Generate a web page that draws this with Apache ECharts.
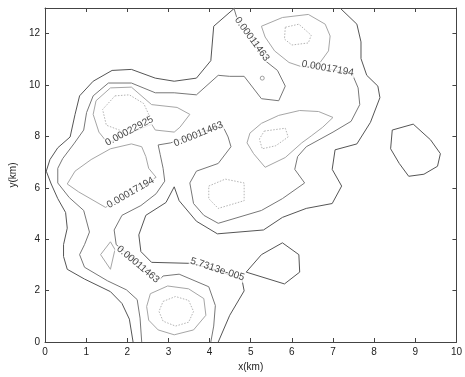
<!DOCTYPE html>
<html>
<head>
<meta charset="utf-8">
<style>
  html, body { margin: 0; padding: 0; background: #fff; }
  #chart { width: 465px; height: 377px; }
</style>
<script src="https://cdn.jsdelivr.net/npm/echarts@6/dist/echarts.min.js"></script>
</head>
<body>
<div id="chart"></div>
<script>
// Tick labels
const xTickLabels = ['0', '1', '2', '3', '4', '5', '6', '7', '8', '9', '10'];
const yTickLabels = ['0', '2', '4', '6', '8', '10', '12'];

// Contour level 5.7313e-005 (outermost), vertices in km
const level1Paths = [
  [[4.61,13.0],[4.10,12.29],[4.03,10.95],[3.68,10.27],[3.14,10.15],[2.68,10.27],[2.10,10.61],[1.63,10.57],[1.17,10.15],[0.84,9.58],[0.73,8.86],[0.61,7.98],[0.31,7.56],[0.12,7.10],[0.03,6.65],[0.15,6.15],[0.31,5.58],[0.50,5.04],[0.54,4.43],[0.45,3.79],[0.45,3.33],[0.54,2.83],[0.96,2.45],[1.59,1.96],[1.87,1.50],[2.05,0.89],[2.14,0]],
  [[4.21,0],[4.49,1.04],[4.84,1.99],[4.79,2.41],[4.19,2.79],[3.56,3.06],[2.59,3.10],[2.33,3.52],[2.28,4.17],[2.45,4.93],[2.94,5.43],[3.14,6.04],[3.26,5.50],[3.68,4.70],[4.19,4.21],[5.31,4.36],[5.77,4.85],[6.35,5.20],[6.98,5.39],[7.21,6.07],[6.98,6.72],[7.05,7.48],[7.58,7.71],[7.91,8.55],[8.14,9.51],[8.09,9.96],[7.82,10.38],[7.68,11.03],[7.68,11.68],[7.58,12.37],[7.17,13.0]],
  [[8.44,8.25],[8.95,8.48],[9.37,7.87],[9.61,7.33],[9.54,6.84],[9.21,6.53],[8.84,6.45],[8.61,6.95],[8.40,7.52],[8.44,8.25]],
  [[4.89,2.72],[5.26,3.40],[5.77,3.86],[6.17,3.40],[6.19,2.72],[5.82,2.26],[4.89,2.72]]
];

// Contour level 0.00011463
const level2Paths = [
  [[4.59,13.0],[4.66,12.63],[5.03,11.87],[5.35,10.95],[5.65,10.57],[5.84,9.96],[5.68,9.39],[5.26,9.47],[4.84,10.34],[4.49,10.34],[4.21,10.38],[3.68,9.62],[3.14,9.70],[2.68,9.70],[2.10,10.08],[1.54,10.08],[1.17,9.58],[1.01,8.93],[0.94,8.25],[0.70,7.71],[0.43,7.14],[0.31,6.76],[0.31,6.19],[0.59,5.62],[0.94,5.12],[1.08,4.28],[0.96,3.79],[0.84,3.40],[0.96,2.91],[1.52,2.38],[1.98,2.03],[2.24,1.65],[2.31,0.93],[2.35,0]],
  [[4.03,0],[4.10,0.62],[4.14,1.42],[3.98,2.15],[3.26,2.64],[2.87,2.57],[2.80,2.45],[1.73,3.79],[1.68,4.36],[1.87,4.93],[2.33,5.31],[2.70,5.77],[2.91,6.26],[2.87,6.76],[2.80,7.29],[2.75,7.67],[3.05,7.75],[4.31,8.44],[4.45,7.98],[4.52,7.60],[4.21,6.95],[3.68,6.65],[3.52,6.19],[3.61,5.39],[3.86,4.93],[4.21,4.62],[5.26,5.12],[5.77,5.58],[6.31,6.19],[6.07,6.72],[6.14,7.22],[6.35,7.60],[7.00,8.17],[7.44,8.59],[7.65,9.24],[7.61,9.89],[7.47,10.42],[6.93,10.61]]
];

// Contour level 0.00017194
const level3Paths = [
  [[1.59,9.89],[2.10,9.92],[2.59,9.24],[3.21,9.13],[3.52,8.86],[3.28,8.36],[3.14,8.17],[2.68,8.25],[2.59,8.48],[1.52,7.75],[1.31,8.17],[1.17,8.86],[1.24,9.39],[1.59,9.89]],
  [[1.59,7.52],[2.10,7.71],[2.35,7.60],[2.45,7.22],[2.52,6.76],[2.70,6.41],[1.47,5.24],[0.82,5.84],[0.54,6.15],[0.73,6.65],[1.12,7.10],[1.59,7.52]],
  [[1.35,3.40],[1.59,3.90],[1.70,3.60],[1.59,2.83],[1.35,3.40]],
  [[2.56,1.88],[2.47,1.38],[2.52,0.85],[2.75,0.47],[3.14,0.28],[3.61,0.47],[3.91,1.04],[3.86,1.69],[3.49,2.07],[2.98,2.18],[2.56,1.88]],
  [[6.65,10.80],[6.28,10.69],[5.93,10.88],[5.58,11.33],[5.35,11.87],[5.26,12.29],[5.77,12.63],[6.40,12.75],[6.81,12.37],[6.93,11.91],[6.89,11.33],[6.65,10.80]],
  [[6.24,7.75],[5.84,7.18],[5.35,6.80],[5.07,7.33],[4.91,7.75],[4.98,8.13],[5.26,8.51],[5.68,8.82],[6.19,9.01],[6.65,8.97],[7.00,8.74],[6.75,8.36],[6.47,8.02],[6.24,7.75]]
];

// Contour level 0.00022925 (innermost rings)
const level4Paths = [
  [[1.70,9.58],[2.05,9.62],[2.40,9.28],[2.52,8.86],[2.28,8.44],[1.87,8.21],[1.49,8.44],[1.40,9.05],[1.70,9.58]],
  [[2.87,1.58],[3.17,1.77],[3.49,1.62],[3.61,1.19],[3.49,0.77],[3.17,0.62],[2.87,0.81],[2.77,1.19],[2.87,1.58]],
  [[3.98,6.07],[4.38,6.34],[4.84,6.19],[4.84,5.50],[4.21,5.20],[3.98,5.58],[3.98,6.07]],
  [[5.33,8.21],[5.84,8.32],[5.91,7.98],[5.61,7.64],[5.28,7.52],[5.21,7.90],[5.33,8.21]],
  [[5.84,12.25],[6.17,12.37],[6.47,11.94],[6.40,11.64],[6.00,11.56],[5.82,11.79],[5.84,12.25]]
];

// A tiny closed contour
const tinyRing = [[5.28, 10.27]];

// Inline contour labels: text and anchor point (km)
const contourLabelText = ['0.00011463', '0.00017194', '0.00022925', '0.00011463', '0.00017194', '0.00011463', '5.7313e-005'];
const contourLabelAt = [[5.03,11.79],[6.87,10.65],[2.05,8.21],[3.73,8.09],[2.08,5.81],[2.26,3.02],[4.19,2.83]];

// Styling
const labelAngles = [-54, -10, 28, 22, 30, -40, -18];
const FONT = "'Liberation Sans', Arial, Helvetica, sans-serif";
const levelStyles = [
  { color: '#555555', width: 1, type: 'solid' },
  { color: '#777777', width: 1, type: 'solid' },
  { color: '#a6a6a6', width: 1, type: 'solid' },
  { color: '#b4b4b4', width: 1, type: [1.5, 1.5] }
];

const chart = echarts.init(document.getElementById('chart'), null, { renderer: 'canvas' });

const series = [];
[level1Paths, level2Paths, level3Paths, level4Paths].forEach((paths, li) => {
  paths.forEach(path => {
    series.push({
      type: 'line',
      xAxisIndex: 0,
      yAxisIndex: 0,
      data: path,
      symbol: 'none',
      showSymbol: false,
      smooth: false,
      silent: true,
      lineStyle: levelStyles[li],
      z: 2 + li
    });
  });
});

series.push({
  type: 'scatter',
  xAxisIndex: 0,
  yAxisIndex: 0,
  data: tinyRing,
  symbol: 'circle',
  symbolSize: 4,
  silent: true,
  itemStyle: { color: 'rgba(0,0,0,0)', borderColor: '#888', borderWidth: 1 },
  z: 6
});

series.push({
  type: 'scatter',
  xAxisIndex: 0,
  yAxisIndex: 0,
  symbolSize: 0,
  silent: true,
  data: contourLabelAt.map((p, i) => ({ value: p, label: { rotate: labelAngles[i] } })),
  label: {
    show: true,
    position: 'inside',
    formatter: p => contourLabelText[p.dataIndex],
    fontSize: 10,
    fontFamily: FONT,
    color: '#111',
    backgroundColor: '#fff',
    padding: [0, 1]
  },
  z: 10
});

const axisLineStyle = { color: '#444', width: 1 };
const tickStyle = { inside: true, length: 4, lineStyle: { color: '#444', width: 1 } };

chart.setOption({
  animation: false,
  backgroundColor: '#fff',
  grid: { left: 32, right: 3, top: 8, bottom: 28, containLabel: false },
  xAxis: [
    {
      type: 'value', min: 0, max: 10, interval: 1, position: 'bottom',
      axisLine: { show: true, onZero: false, lineStyle: axisLineStyle },
      axisTick: tickStyle,
      splitLine: { show: false },
      axisLabel: {
        color: '#222', fontSize: 10, fontFamily: FONT, margin: 5,
        formatter: v => (xTickLabels.includes(String(v)) ? String(v) : '')
      },
      name: 'x(km)', nameLocation: 'middle', nameGap: 20,
      nameTextStyle: { color: '#222', fontSize: 10, fontFamily: FONT }
    },
    {
      type: 'value', min: 0, max: 10, interval: 1, position: 'top',
      axisLine: { show: true, onZero: false, lineStyle: axisLineStyle },
      axisTick: tickStyle,
      splitLine: { show: false },
      axisLabel: { show: false }
    }
  ],
  yAxis: [
    {
      type: 'value', min: 0, max: 13, interval: 2, position: 'left',
      axisLine: { show: true, onZero: false, lineStyle: axisLineStyle },
      axisTick: tickStyle,
      splitLine: { show: false },
      axisLabel: {
        color: '#222', fontSize: 10, fontFamily: FONT, margin: 5,
        showMaxLabel: false,
        formatter: v => (yTickLabels.includes(String(v)) ? String(v) : '')
      },
      name: 'y(km)', nameLocation: 'middle', nameGap: 20, nameRotate: 90,
      nameTextStyle: { color: '#222', fontSize: 10, fontFamily: FONT }
    },
    {
      type: 'value', min: 0, max: 13, interval: 2, position: 'right',
      axisLine: { show: true, onZero: false, lineStyle: axisLineStyle },
      axisTick: tickStyle,
      splitLine: { show: false },
      axisLabel: { show: false }
    }
  ],
  series: series
});
</script>
</body>
</html>
